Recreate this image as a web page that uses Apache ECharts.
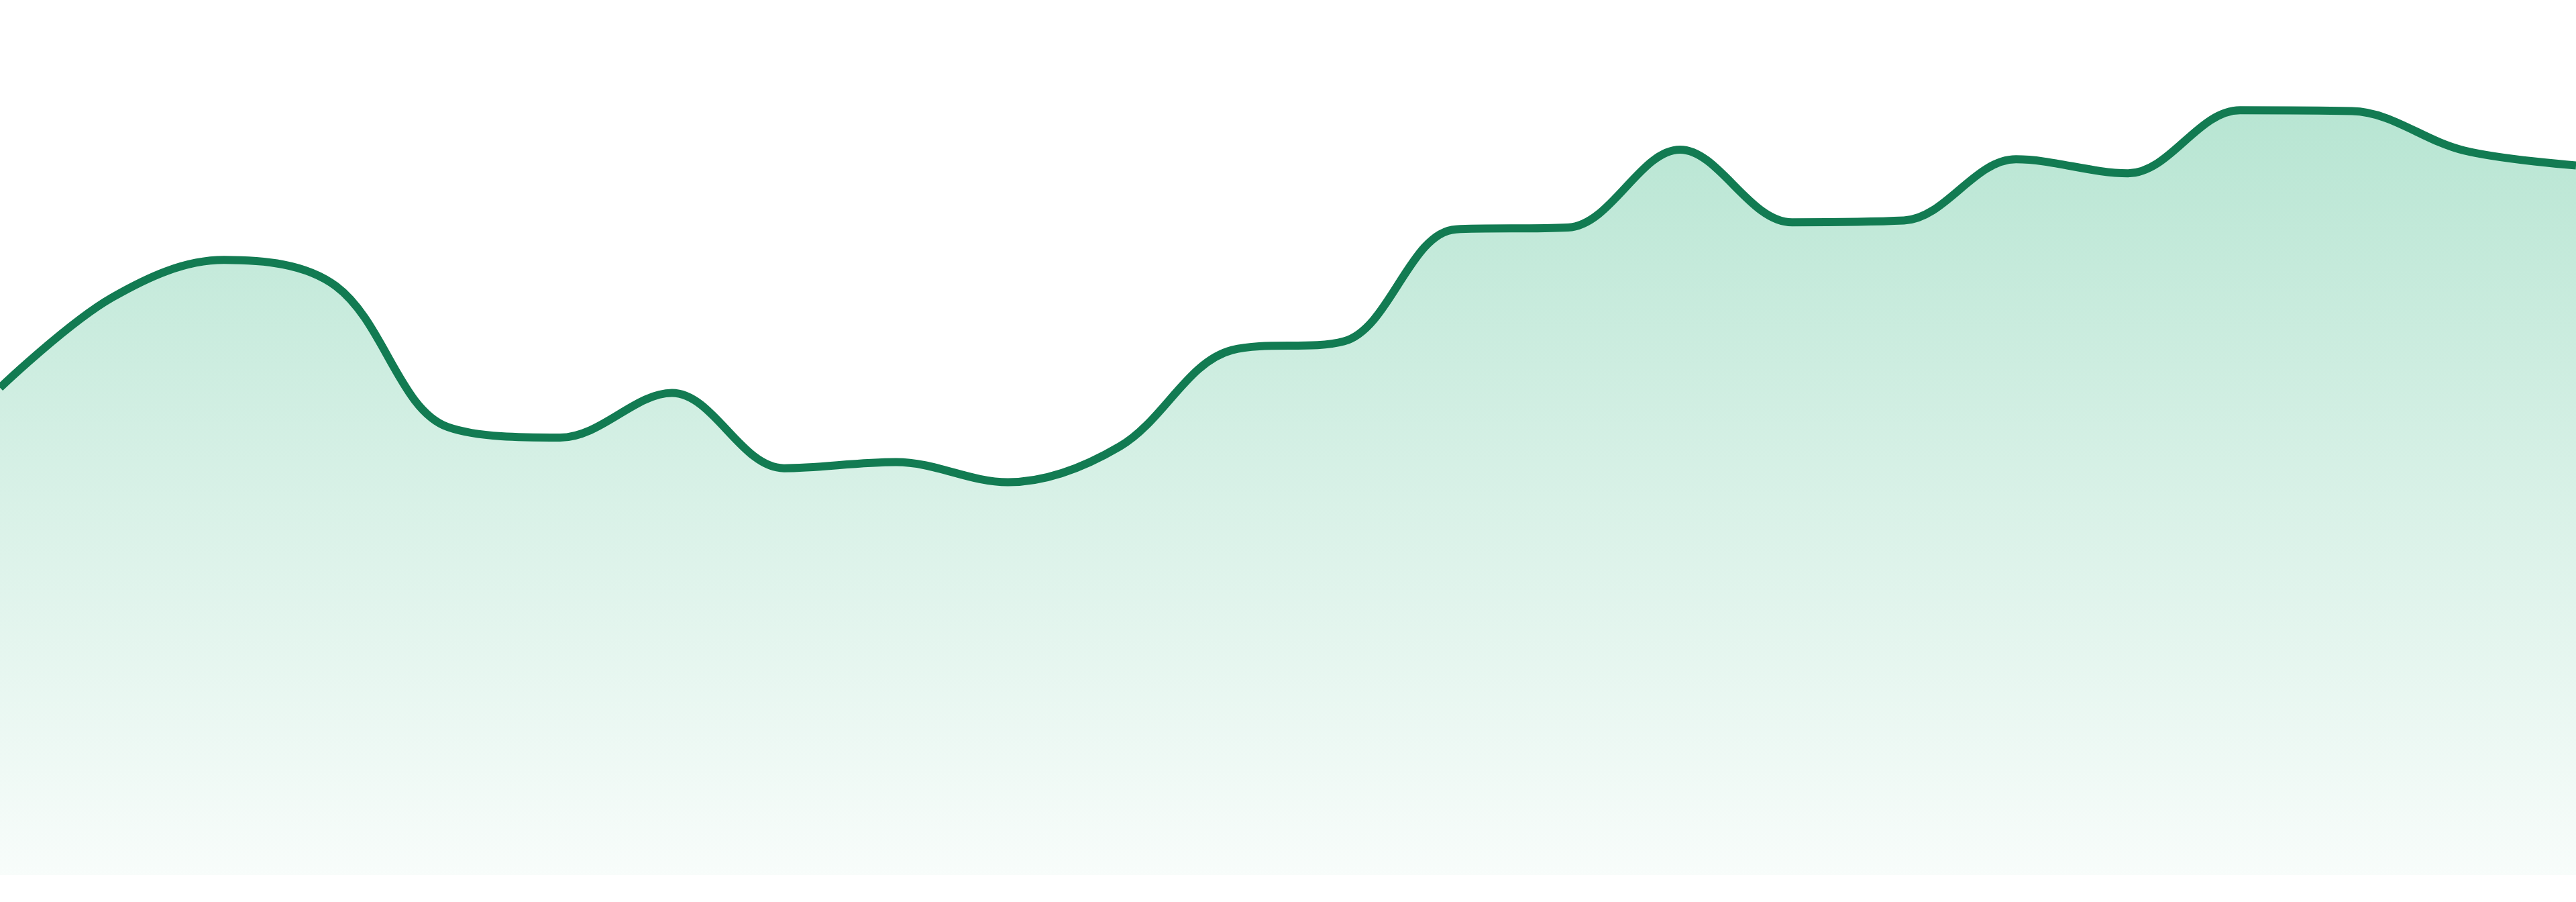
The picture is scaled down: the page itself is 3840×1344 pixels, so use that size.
<!DOCTYPE html>
<html>
<head>
<meta charset="utf-8">
<script src="https://cdn.jsdelivr.net/npm/echarts@6/dist/echarts.min.js"></script>
<style>
html,body{margin:0;padding:0;background:#ffffff;}
#chart{width:3840px;height:1344px;}
</style>
</head>
<body>
<div id="chart"></div>
<script>
const categories = ['1','2','3','4','5','6','7','8','9','10','11','12','13','14','15','16','17','18','19','20','21','22','23','24'];
const values = [55.7, 66.0, 70.3, 67.3, 51.2, 50.0, 55.1, 46.5, 47.2, 44.9, 49.0, 60.0, 61.0, 73.8, 74.0, 82.9, 74.6, 74.8, 81.8, 80.2, 87.4, 87.3, 82.8, 81.1];
const yMin = 0;
const yMax = 100;

const chart = echarts.init(document.getElementById('chart'));
chart.setOption({
  animation: false,
  backgroundColor: '#ffffff',
  grid: { left: 0, right: 0, top: 0, bottom: 40, containLabel: false },
  xAxis: {
    type: 'category',
    data: categories,
    boundaryGap: false,
    show: false
  },
  yAxis: {
    type: 'value',
    min: yMin,
    max: yMax,
    show: false
  },
  series: [{
    type: 'line',
    data: values,
    smooth: 0.35,
    showSymbol: false,
    lineStyle: { color: '#127b52', width: 12 },
    areaStyle: {
      opacity: 1,
      color: new echarts.graphic.LinearGradient(0, 0, 0, 1, [
        { offset: 0, color: 'rgba(25,172,112,0.31)' },
        { offset: 1, color: 'rgba(25,172,112,0.03)' }
      ])
    }
  }]
});
</script>
</body>
</html>
